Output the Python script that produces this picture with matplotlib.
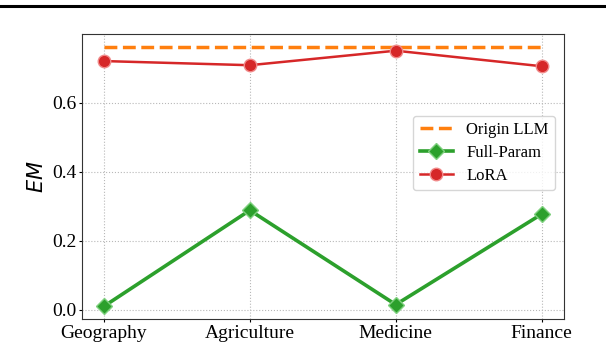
import matplotlib
matplotlib.use('Agg')
import matplotlib.pyplot as plt
from matplotlib.lines import Line2D

# ── Data ───────────────────────────────────────────────────────────────────
domains = ['Geography', 'Agriculture', 'Medicine', 'Finance']
origin_llm = [0.76, 0.76, 0.76, 0.76]
full_param = [0.010, 0.288, 0.015, 0.277]
lora = [0.720, 0.708, 0.750, 0.705]

plt.rcParams['font.family'] = ['Liberation Serif', 'DejaVu Serif']
plt.rcParams['mathtext.fontset'] = 'dejavusans'

fig = plt.figure(figsize=(6.06, 3.46), dpi=100)
ax = fig.add_axes([0.1353, 0.0772, 0.7947, 0.8237])

x = range(len(domains))
ax.plot(x, origin_llm, '--', color='#ff7f0e', lw=2.5, label='Origin LLM', zorder=3)
ax.plot(x, full_param, '-', color='#2ca02c', lw=2.6, marker='D', ms=8,
        mec='#7fd07f', mew=1.0, label='Full-Param', zorder=4)
ax.plot(x, lora, '-', color='#d62728', lw=1.8, marker='o', ms=9,
        mec='#f08a8a', mew=1.0, label='LoRA', zorder=4)

ax.set_xticks(list(x))
ax.set_xticklabels(domains, fontsize=14)
ax.set_yticks([0.0, 0.2, 0.4, 0.6])
ax.tick_params(axis='y', labelsize=14)
ax.tick_params(axis='both', length=2, pad=2)
ax.set_ylabel(r'$EM$', fontsize=15, labelpad=3)
ax.grid(True, ls=':', color='#b8b8b8', lw=0.8)
for s in ax.spines.values():
    s.set_color('#333333')

ax.legend(loc='center right', bbox_to_anchor=(1.0, 0.5835), fontsize=12,
          handlelength=2.0, labelspacing=0.4, framealpha=0.8,
          edgecolor='#cccccc')

# rule from the page above the figure
fig.add_artist(Line2D([0, 1], [0.984, 0.984], color='black', lw=2.2,
                      transform=fig.transFigure))

fig.savefig('out.png', dpi=100)
